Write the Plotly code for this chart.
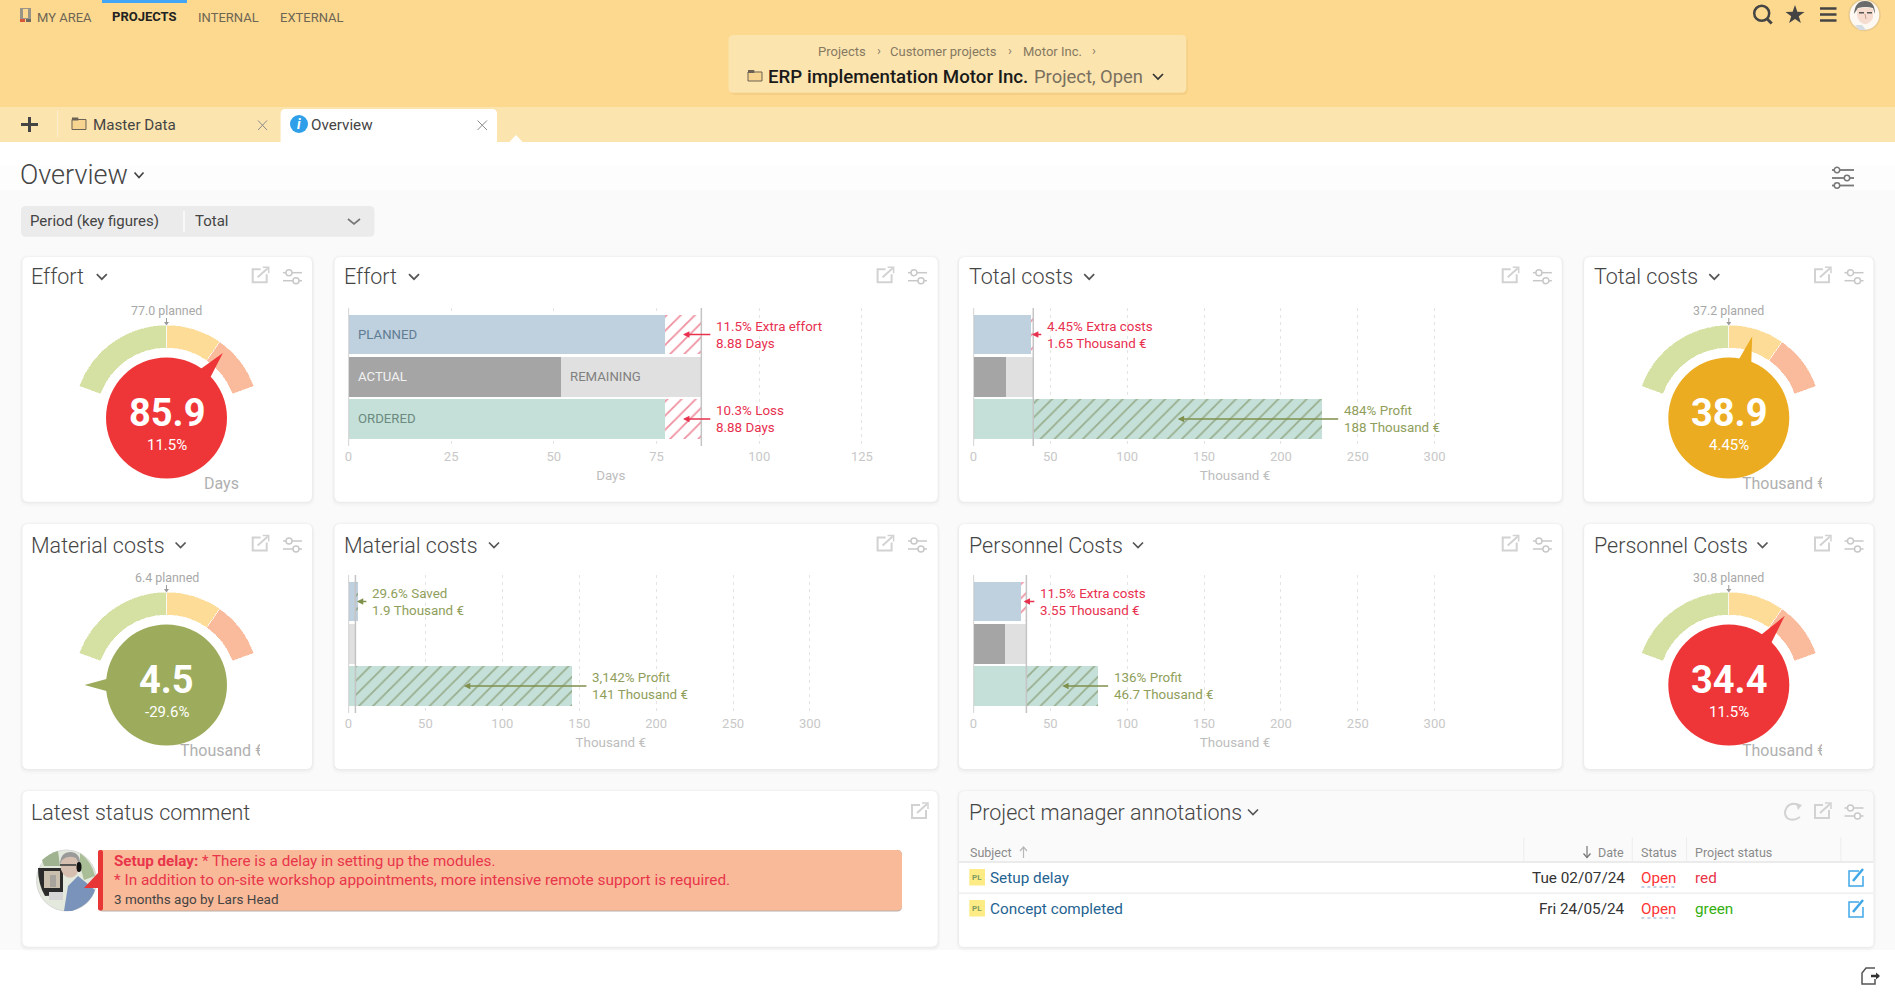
"""Project overview dashboard: four gauges, four budget bars and two text panels."""

import math
import re

import plotly.graph_objects as go

W, H = 1895, 1003
FONT = "Roboto"

# gauges
GAUGE_TITLES = ["Effort", "Total costs", "Material costs", "Personnel Costs"]
GAUGE_VALUES = ["85.9", "38.9", "4.5", "34.4"]
GAUGE_PERCENTS = ["11.5%", "4.45%", "-29.6%", "11.5%"]
GAUGE_PLANNED = ["77.0 planned", "37.2 planned", "6.4 planned", "30.8 planned"]
GAUGE_UNITS = ["Days", "Thousand €", "Thousand €", "Thousand €"]
GAUGE_COLORS = ["#ee3638", "#ecac22", "#9cac5c", "#ee3638"]
POINTER_ANGLES = [41, 16, -90, 39]
POINTER_REACH = [86, 85, 82, 89]
BAND_STARTS = [-70, 0, 35]
BAND_SPANS = [70, 35, 35]
BAND_COLORS = ["#d5e0a3", "#fddc98", "#f9bb9c"]

# bars
BAR_ROWS = ["PLANNED", "ACTUAL", "ORDERED"]
BAR_UNITS = ["Days", "Thousand €", "Thousand €", "Thousand €"]
BAR_PLANNED = [77.0, 37.2, 6.4, 30.8]
BAR_TOTAL = [85.9, 38.9, 4.5, 34.4]
BAR_ACTUAL = [51.8, 21.2, 0.4, 20.8]
BAR_ORDERED = [77.0, 226.9, 145.6, 81.1]
BAR_TICK_STEP = [25, 50, 50, 50]
PLAN_NOTES = [
    "11.5% Extra effort<br>8.88 Days",
    "4.45% Extra costs<br>1.65 Thousand €",
    "29.6% Saved<br>1.9 Thousand €",
    "11.5% Extra costs<br>3.55 Thousand €",
]
ORDER_NOTES = [
    "10.3% Loss<br>8.88 Days",
    "484% Profit<br>188 Thousand €",
    "3,142% Profit<br>141 Thousand €",
    "136% Profit<br>46.7 Thousand €",
]

# annotation table
TABLE_SUBJECTS = ["Setup delay", "Concept completed"]
TABLE_DATES = ["Tue 02/07/24", "Fri 24/05/24"]
TABLE_STATUS = ["Open", "Open"]
TABLE_PROJECT_STATUS = ["red", "green"]
TABLE_STATUS_COLORS = ["#e8354a", "#36b011"]

# comment panel
COMMENT_HEAD = "Setup delay:"
COMMENT_LINES = [
    "* There is a delay in setting up the modules.",
    "* In addition to on-site workshop appointments, more intensive remote support is required.",
]
COMMENT_FOOT = "3 months ago by Lars Head"

# layout, in page pixels
GAUGE_CENTERS = [(166.5, 418), (1728.8, 418), (166.5, 685), (1728.8, 685)]
BAR_SPANS = [(348.5, 873), (973.5, 1496.5), (348.5, 873), (973.5, 1496.5)]
BAR_RANGE_END = [127.7, 340.3, 341, 340.3]
BAR_TOPS = [308, 308, 575, 575]
PLAN_GAPS = [13, 12, 12, 12]
ORDER_GAPS = [13, 20, 18, 14]

RED_TEXT = "#e8304f"
OLIVE_TEXT = "#8f9e5b"
RED_ARROW = "#e8304f"
OLIVE_ARROW = "#7f904c"
RED_HATCH = "#dd1f40"
OLIVE_HATCH = "#6a7b44"

shapes = []
notes = []


def pg(d):
    """Turn a path written in page pixels into paper coordinates."""
    out = []
    for cmd, nums in re.findall(r"([MLQCZ])([^MLQCZ]*)", d):
        vals = [float(v) for v in nums.split()]
        pts = [f"{vals[i] / W:.5f},{1 - vals[i + 1] / H:.5f}" for i in range(0, len(vals), 2)]
        out.append(cmd + " ".join(pts))
    return " ".join(out)


def path(d, fill=None, line=None, width=1.5, layer="above", dash=None):
    shapes.append(dict(
        type="path", xref="paper", yref="paper", path=pg(d), layer=layer,
        fillcolor=fill or "rgba(0,0,0,0)",
        line=dict(color=line or "rgba(0,0,0,0)", width=width if line else 0, dash=dash),
    ))


def box(x0, y0, x1, y1, fill, r=0, line=None, layer="below", width=1):
    if r:
        d = (f"M{x0 + r} {y0} L{x1 - r} {y0} Q{x1} {y0} {x1} {y0 + r} L{x1} {y1 - r} "
             f"Q{x1} {y1} {x1 - r} {y1} L{x0 + r} {y1} Q{x0} {y1} {x0} {y1 - r} "
             f"L{x0} {y0 + r} Q{x0} {y0} {x0 + r} {y0} Z")
    else:
        d = f"M{x0} {y0} L{x1} {y0} L{x1} {y1} L{x0} {y1} Z"
    path(d, fill=fill, line=line, layer=layer, width=width)


def oval(cx, cy, rx, ry, fill=None, line=None, width=1.5, layer="above"):
    shapes.append(dict(
        type="circle", xref="paper", yref="paper", layer=layer,
        x0=(cx - rx) / W, x1=(cx + rx) / W, y0=1 - (cy + ry) / H, y1=1 - (cy - ry) / H,
        fillcolor=fill or "rgba(0,0,0,0)",
        line=dict(color=line or "rgba(0,0,0,0)", width=width if line else 0),
    ))


def seg(x0, y0, x1, y1, color, width=1.5, dash=None):
    path(f"M{x0} {y0} L{x1} {y1}", line=color, width=width, dash=dash)


def txt(x, y, text, size, color, anchor="left", weight=None, clip=None):
    item = dict(
        xref="paper", yref="paper", x=x / W, y=1 - y / H, text=text, showarrow=False,
        xanchor=anchor, yanchor="middle", align=anchor,
        borderpad=0, font=dict(family=FONT, size=size, color=color, weight=weight),
    )
    if clip:
        item["width"] = clip
    notes.append(item)


def chevron(x, y, color="#555555", half=4.5):
    path(f"M{x - half} {y - 2.5} L{x} {y + 2.5} L{x + half} {y - 2.5}", line=color, width=1.7)


def export_icon(x, y):
    c = "#d2d2d2"
    path(f"M{x + 8} {y + 2} L{x} {y + 2} L{x} {y + 15} L{x + 14} {y + 15} L{x + 14} {y + 7}", line=c, width=2)
    seg(x + 5, y + 10, x + 15, y + 1, c, 2)
    path(f"M{x + 10} {y} L{x + 16} {y} L{x + 16} {y + 6}", line=c, width=1.5)


def sliders_icon(x, y):
    c = "#c8c8c8"
    seg(x, y + 3, x + 19, y + 3, c, 1.5)
    seg(x, y + 11, x + 19, y + 11, c, 1.5)
    oval(x + 6, y + 3, 3, 3, fill="white", line=c)
    oval(x + 13, y + 11, 3, 3, fill="white", line=c)


def folder_icon(x, y, w=14, h=11):
    box(x, y + 2, x + w, y + h, "#f7d48f", line="#6b6255", layer="above")
    box(x, y, x + w * 0.45, y + 3, "#6b6255", layer="above")


def card(x0, y0, x1, y1, fill="white"):
    box(x0 - 3, y0 - 2, x1 + 3, y1 + 5, "rgba(0,0,0,0.012)", r=9)
    box(x0 - 2, y0 - 1, x1 + 2, y1 + 3, "rgba(0,0,0,0.018)", r=8)
    box(x0 - 1, y0, x1 + 1, y1 + 1.5, "rgba(0,0,0,0.025)", r=7)
    box(x0, y0, x1, y1, fill, r=6)


def card_title(x, y, text, chevron_x=None):
    txt(x, y, text, 21.5, "#454545", weight=300)
    if chevron_x:
        chevron(chevron_x, y, half=5)


# page background
box(0, 142, W, 165, "#ffffff")
box(0, 165, W, 190, "#fdfdfd")
box(0, 190, W, 950, "#fafafa")
box(0, 950, W, H, "#ffffff")

# top bar and tabs
box(0, 0, W, 107, "#fdd98f")
box(0, 107, W, 142, "#fce4af")
box(102, 0, 187, 3, "#42a5f5")
box(20, 8, 31, 19, "#9a9488", layer="above")
box(23, 9, 28, 18, "#fdd98f", layer="above")
box(20, 19, 25, 22, "#d9563c", layer="above")
box(26, 19, 31, 22, "#6e6a62", layer="above")
txt(35.5, 17.7, "MY AREA", 13, "#6d6655")
txt(111, 16.7, "PROJECTS", 13, "#222222", weight=700)
txt(196.5, 17.7, "INTERNAL", 13, "#6d6655")
txt(278.5, 17.7, "EXTERNAL", 13, "#6d6655")

# breadcrumb
box(730, 37, 1187.8, 95, "rgba(160,120,40,0.10)", r=6)
box(728.5, 35, 1186.3, 92.7, "#fce4af", r=5)
CRUMB = "#85795f"
txt(816.6, 51.7, "Projects", 13, CRUMB)
txt(879, 51, "›", 13, CRUMB, anchor="center")
txt(889, 51.7, "Customer projects", 13, CRUMB)
txt(1010.3, 51, "›", 13, CRUMB, anchor="center")
txt(1021.8, 51.7, "Motor Inc.", 13, CRUMB)
txt(1093.5, 51, "›", 13, CRUMB, anchor="center")
folder_icon(748, 70)
txt(766.5, 76.7, "ERP implementation Motor Inc.", 18.7, "#1a1a1a", weight=500)
txt(1033.2, 76.7, "Project, Open", 18.4, "#7a705e")
chevron(1158, 76.5, "#333333", 5)

# top right tools
oval(1761.7, 13.3, 7.5, 7.5, line="#444444", width=2.5)
seg(1767, 18.8, 1771.7, 23.5, "#444444", 3)
star = []
for k in range(10):
    r = 10 if k % 2 == 0 else 4
    a = math.radians(k * 36 - 90)
    star.append(f"{1795 + r * math.cos(a):.2f} {15 + r * math.sin(a):.2f}")
path("M" + " L".join(star) + " Z", fill="#444444")
for yy in (8.5, 14.5, 20.5):
    seg(1820, yy, 1836.5, yy, "#444444", 2.5)

# user portrait, drawn roughly
oval(1864.5, 15, 15.5, 15.5, fill="#fdf8f2", line="#e8c98e", width=1.5)
path("M1854 14 Q1855 1 1865 1 Q1875 1 1875 14 L1873 8 Q1866 6 1858 8 Z", fill="#6b6b6b")
path("M1857 9 Q1866 6 1873 9 L1873 18 Q1869 25 1864 24 Q1858 22 1857 15 Z", fill="#f6ddd0")
box(1859, 12, 1864, 13.5, "#555555", layer="above")
box(1867, 12, 1872, 13.5, "#555555", layer="above")
seg(1865, 14, 1866, 19, "#c9a090", 1)
path("M1855 25 L1862 25 L1866 30 L1859 30 Z", fill="#d5dde2")

# tabs
seg(21, 124.5, 38, 124.5, "#444444", 3)
seg(29.5, 117, 29.5, 132, "#444444", 3)
seg(57.6, 110, 57.6, 137, "#fdeecb", 1)
folder_icon(72, 117.5, 14, 12)
txt(91.5, 125, "Master Data", 15.2, "#444444")
seg(258, 120.5, 267, 130, "#8a8a8a", 1)
seg(267, 120.5, 258, 130, "#8a8a8a", 1)
box(280.6, 109, 497, 150, "#ffffff", r=5)
oval(299, 124, 9, 9, fill="#2e9fe8")
txt(299, 124, "<i><b>i</b></i>", 14, "#ffffff", anchor="center")
txt(310, 125, "Overview", 15.2, "#444444")
seg(477.5, 120.5, 487, 130, "#8a8a8a", 1)
seg(487, 120.5, 477.5, 130, "#8a8a8a", 1)
path("M509 142.5 L516 135 L523 142.5 Z", fill="#ffffff")

# page heading
txt(19, 175, "Overview", 27, "#444444", weight=300)
chevron(139, 175, "#444444", 4.5)
sx = 1832
for yy, knob in ((170, 5), (178, 15), (185.5, 5)):
    seg(sx, yy, sx + 22, yy, "#777777", 1.8)
    oval(sx + knob, yy, 2.7, 2.7, fill="white", line="#777777")

# period filter
box(21, 206, 374.5, 236.7, "#ebebeb", r=5)
seg(184, 211, 184, 232, "#f8f8f8", 2)
txt(28.7, 221, "Period (key figures)", 15, "#444444")
txt(194, 221, "Total", 15, "#444444")
chevron(354, 221.5, "#777777", 6)

# cards
COLUMNS = [(22.4, 312), (334.5, 937.6), (959, 1561.8), (1584.1, 1873.4)]
for top, bottom in ((257, 501.7), (524, 769)):
    for x0, x1 in COLUMNS:
        card(x0, top, x1, bottom)
card(22.4, 791, 937.6, 946.7)
card(959, 791, 1873.4, 946.7, fill="#fafafa")
box(959, 862, 1873.4, 941, "#ffffff")
box(959, 938, 1873.4, 946.7, "#ffffff", r=4)

EXPORT_X = [252.7, 877.6, 1502.7, 1815]
SLIDER_X = [283, 908, 1532.9, 1844.5]
TITLE_X = [30, 343, 968, 1593]
CHEVRON_X = {
    276.7: [101.8, 414, 1089.2, 1714.3],
    545: [180.6, 494, 1138, 1762.5],
}
ROW_TITLES = {276.7: ["Effort", "Effort", "Total costs", "Total costs"],
              545: ["Material costs", "Material costs", "Personnel Costs", "Personnel Costs"]}
for ty, titles in ROW_TITLES.items():
    for i, title in enumerate(titles):
        card_title(TITLE_X[i], ty, title, CHEVRON_X[ty][i])
        export_icon(EXPORT_X[i], ty - 9.5)
        sliders_icon(SLIDER_X[i], ty - 7)

card_title(30, 812, "Latest status comment")
export_icon(912, 803)
card_title(968, 812, "Project manager annotations", 1253)
export_icon(1815, 803)
sliders_icon(1844.5, 805)
# refresh icon
path("M1800 806 Q1792 801 1787 807 Q1783 813 1787 818 Q1793 822 1800 817",
     line="#d2d2d2", width=2)
path("M1796 803 L1802 805 L1798 810 Z", fill="#d2d2d2")

# status comment
oval(66.5, 880.5, 30, 30.5, fill="#e3e9dc", line="#d8d8d8", width=1)
path("M42 860 Q50 853 58 851 L60 866 L44 866 Z", fill="#9fb391")
path("M80 853 Q92 862 95 876 L84 880 L80 866 Z", fill="#a9bd96")
path("M38 868 L63 868 L63 895 L45 896 Q38 884 38 868 Z", fill="#2b2b2b")
box(44, 871, 60, 888, "#cbbfae", layer="above")
box(50, 875, 56, 887, "#a8a39c", layer="above")
box(49, 892, 63, 900, "#d5d5d5", layer="above")
path("M64 911 L68 886 L78 876 L95 890 Q90 905 72 911 Z", fill="#7a93bb")
oval(70, 866, 9.5, 11.5, fill="#d6bfb0")
path("M60 865 Q60 852 71 852 Q81 853 80 866 L76 858 Q68 855 62 860 Z", fill="#9a9a9a")
seg(60, 865, 76, 865, "#4a4a4a", 1.8)
oval(79, 867, 2.5, 5, fill="#111111")
box(98, 850, 902, 911.5, "#b9b0a8", r=5)
box(98, 850, 902, 910.5, "#f9ba9a", r=5)
box(98, 850, 103, 910.5, "#e83535", r=2)
path("M98 873 L98 888 L84 888 Z", fill="#e83535")
txt(113, 861, f"<b>{COMMENT_HEAD}</b> {COMMENT_LINES[0]}", 15.2, "#e8354a")
txt(113, 880, COMMENT_LINES[1], 15.4, "#e8354a")
txt(113, 899, COMMENT_FOOT, 13.5, "#444444")

# annotation table
HEAD = "#8a8a8a"
seg(959, 862, 1873.4, 862, "#ebebeb", 2)
seg(959, 893.3, 1873.4, 893.3, "#f0f0f0", 1.5)
for sep in (1523.8, 1632.3, 1686.6, 1840.9):
    seg(sep, 837, sep, 861, "#ededed", 1)
txt(968.5, 852.7, "Subject", 12.5, HEAD)
seg(1023.5, 847, 1023.5, 858, "#b8b8b8", 1.2)
path("M1020 851 L1023.5 847 L1027 851", line="#b8b8b8", width=1.2)
txt(1625, 852.7, "Date", 12.5, HEAD, anchor="right")
seg(1587, 846, 1587, 857.5, "#777777", 1.2)
path("M1583.5 853.5 L1587 857.5 L1590.5 853.5", line="#777777", width=1.2)
txt(1640.4, 852.7, "Status", 12.5, HEAD)
txt(1694, 852.7, "Project status", 12.5, HEAD)
for i, subject in enumerate(TABLE_SUBJECTS):
    ry = 878 + 31 * i
    box(969.3, ry - 9, 985, ry + 7.5, "#fdeb85", layer="above")
    txt(977, ry - 1, "<b>PL</b>", 8, "#7d9a62", anchor="center")
    txt(988.8, ry, subject, 15.3, "#1f6391")
    txt(1626, ry, TABLE_DATES[i], 15.3, "#333333", anchor="right")
    txt(1640.4, ry, TABLE_STATUS[i], 15.2, "#ff3333")
    seg(1641.4, ry + 9, 1677, ry + 9, "#8aa9c8", 1, dash="dot")
    txt(1694, ry, TABLE_PROJECT_STATUS[i], 15.3, TABLE_STATUS_COLORS[i])
    path(f"M1859 {ry - 7} L1849 {ry - 7} L1849 {ry + 8} L1863 {ry + 8} L1863 {ry - 2}", line="#3fa7e8", width=1.5)
    seg(1853, ry + 3, 1863, ry - 9, "#3fa7e8", 2.5)

# leave page icon
path("M1875 968 L1866 968 L1862 973 L1862 984 L1875 984 L1875 979", line="#555555", width=1.5)
seg(1871, 976, 1879, 976, "#333333", 2.5)
path("M1876 972.5 L1880 976 L1876 979.5 Z", fill="#333333")

fig = go.Figure()

# gauges
for i, (cx, cy) in enumerate(GAUGE_CENTERS):
    name = "polar" if i == 0 else f"polar{i + 1}"
    radius = 93
    fig.add_trace(go.Barpolar(
        subplot=name,
        r=[23, 23, 23],
        base=[70, 70, 70],
        theta=[s + w / 2 for s, w in zip(BAND_STARTS, BAND_SPANS)],
        width=BAND_SPANS,
        marker=dict(color=BAND_COLORS, line=dict(width=0.6, color="white")),
        showlegend=False,
    ))
    a = POINTER_ANGLES[i]
    fig.add_trace(go.Scatterpolar(
        subplot=name,
        r=[56, POINTER_REACH[i], 56, 56],
        theta=[a - 7.5, a, a + 7.5, a - 7.5],
        mode="lines",
        fill="toself",
        fillcolor=GAUGE_COLORS[i],
        line=dict(width=0, color=GAUGE_COLORS[i]),
        showlegend=False,
    ))
    fig.add_trace(go.Scatterpolar(
        subplot=name,
        r=[0],
        theta=[0],
        mode="markers",
        marker=dict(size=121, color=GAUGE_COLORS[i], line=dict(width=0)),
        cliponaxis=False,
        showlegend=False,
    ))
    fig.update_layout({name: dict(
        domain=dict(x=[(cx - radius) / W, (cx + radius) / W],
                    y=[1 - (cy + radius) / H, 1 - (cy - radius) / H]),
        bgcolor="rgba(0,0,0,0)",
        radialaxis=dict(visible=False, range=[0, radius]),
        angularaxis=dict(visible=False, rotation=90, direction="clockwise"),
    )})
    txt(cx, cy - 107.3, GAUGE_PLANNED[i], 12.4, "#a8a8a8", anchor="center")
    seg(cx, cy - 100, cx, cy - 95, "#999999", 1)
    path(f"M{cx - 2.5} {cy - 96} L{cx} {cy - 92.5} L{cx + 2.5} {cy - 96} Z", fill="#999999")
    txt(cx, cy - 5, f"<b>{GAUGE_VALUES[i]}</b>", 38, "#ffffff", anchor="center")
    txt(cx, cy + 27, GAUGE_PERCENTS[i], 15, "#ffffff", anchor="center")
    if GAUGE_UNITS[i] == "Days":
        txt(cx + 36, cy + 65, GAUGE_UNITS[i], 16, "#b0b0b0")
    else:
        txt(cx + 12, cy + 65, GAUGE_UNITS[i], 16, "#b0b0b0", clip=80)


def extra_bar(row, value, fill, hatch, xname, yname):
    """One stacked segment past the solid part of a row, hatched when hatch is set."""
    marker = dict(color=fill, line=dict(width=0))
    if hatch:
        marker["pattern"] = dict(shape="/", size=10, solidity=0.18, fgcolor=hatch, bgcolor=fill)
    return go.Bar(x=[value], y=[row], orientation="h", xaxis=xname, yaxis=yname,
                  showlegend=False, marker=marker)


# budget bars
for i in range(4):
    ax = "" if i == 0 else str(i + 1)
    xname, yname = f"x{ax}", f"y{ax}"
    planned, total, actual, ordered = BAR_PLANNED[i], BAR_TOTAL[i], BAR_ACTUAL[i], BAR_ORDERED[i]
    x0, x1 = BAR_SPANS[i]
    scale = (x1 - x0) / BAR_RANGE_END[i]
    top = BAR_TOPS[i]

    plan_over = planned > total
    order_over = ordered > total
    fig.add_trace(go.Bar(
        x=[min(planned, total), actual, min(ordered, total)],
        y=BAR_ROWS, orientation="h", xaxis=xname, yaxis=yname, showlegend=False,
        marker=dict(color=["#bfd0df", "#a5a5a5", "#c5e0d8"], line=dict(width=0)),
    ))
    fig.add_trace(extra_bar(
        "PLANNED", abs(planned - total), "#bfd0df" if plan_over else "#ffffff",
        OLIVE_HATCH if plan_over else RED_HATCH, xname, yname,
    ))
    fig.add_trace(extra_bar("ACTUAL", total - actual, "#e0e0e0", None, xname, yname))
    fig.add_trace(extra_bar(
        "ORDERED", abs(ordered - total), "#c5e0d8" if order_over else "#ffffff",
        OLIVE_HATCH if order_over else RED_HATCH, xname, yname,
    ))

    xkey, ykey = f"xaxis{ax}", f"yaxis{ax}"
    fig.update_layout({
        xkey: dict(
            domain=[x0 / W, x1 / W],
            anchor=yname,
            range=[0, BAR_RANGE_END[i]],
            dtick=BAR_TICK_STEP[i],
            tick0=0,
            showgrid=True,
            griddash="3px,4px",
            gridcolor="#e4e4e4",
            gridwidth=1,
            zeroline=False,
            showline=False,
            ticks="",
            ticklabelstandoff=1,
            tickfont=dict(family=FONT, size=13, color="#c8c8c8"),
            title=dict(text=BAR_UNITS[i], font=dict(family=FONT, size=13.4, color="#bdbdbd"), standoff=7),
            fixedrange=True,
        ),
        ykey: dict(
            domain=[1 - (top + 138) / H, 1 - top / H],
            anchor=xname,
            type="category",
            categoryorder="array",
            categoryarray=BAR_ROWS,
            range=[2.64, -0.628],
            showticklabels=False,
            showgrid=False,
            zeroline=False,
            ticks="",
            fixedrange=True,
        ),
    })

    # axis line and the line at the actual total
    for value, color, width in ((0, "#b5b5b5", 1.2), (total, "#c4c4c4", 1.5)):
        shapes.append(dict(
            type="line", xref=xname, yref=f"{yname} domain", x0=value, x1=value, y0=0, y1=1,
            layer="above", line=dict(color=color, width=width),
        ))

    # notes beside the planned and ordered rows
    for row, note, gap, end, over, tip_from in (
        ("PLANNED", PLAN_NOTES[i], PLAN_GAPS[i], max(planned, total), plan_over, min(planned, total)),
        ("ORDERED", ORDER_NOTES[i], ORDER_GAPS[i], max(ordered, total), order_over, min(ordered, total)),
    ):
        text_color = OLIVE_TEXT if over else RED_TEXT
        arrow_color = OLIVE_ARROW if over else RED_ARROW
        notes.append(dict(
            xref=xname, yref=yname, x=end, y=row, text=note, showarrow=False,
            xanchor="left", yanchor="middle", align="left", xshift=gap,
            font=dict(family=FONT, size=13.4, color=text_color),
        ))
        mid = (tip_from + end) / 2
        notes.append(dict(
            xref=xname, yref=yname, x=mid, y=row, text=" ", showarrow=True,
            axref="pixel", ayref="pixel", ax=(end - mid) * scale + gap - 1, ay=0,
            arrowhead=2, arrowsize=0.8, arrowwidth=1.6, arrowcolor=arrow_color, standoff=0,
        ))

    # row captions only in the effort chart
    if i == 0:
        for row, value, caption, color in (
            ("PLANNED", 0, "PLANNED", "#5f7c93"),
            ("ACTUAL", 0, "ACTUAL", "#f2f2f2"),
            ("ACTUAL", actual, "REMAINING", "#808080"),
            ("ORDERED", 0, "ORDERED", "#6b8a80"),
        ):
            notes.append(dict(
                xref=xname, yref=yname, x=value, y=row, text=caption, showarrow=False,
                xanchor="left", yanchor="middle", xshift=7,
                font=dict(family=FONT, size=13.2, color=color),
            ))

fig.update_layout(
    width=W,
    height=H,
    margin=dict(l=0, r=0, t=0, b=0, autoexpand=False),
    autosize=False,
    barmode="stack",
    bargap=0.064,
    showlegend=False,
    hovermode=False,
    paper_bgcolor="white",
    plot_bgcolor="rgba(0,0,0,0)",
    font=dict(family=FONT),
    shapes=shapes,
    annotations=notes,
)

fig.write_html(
    "out.html",
    config={"displayModeBar": False},
    post_script="document.body.style.margin='0';document.documentElement.style.overflow='hidden';",
)
